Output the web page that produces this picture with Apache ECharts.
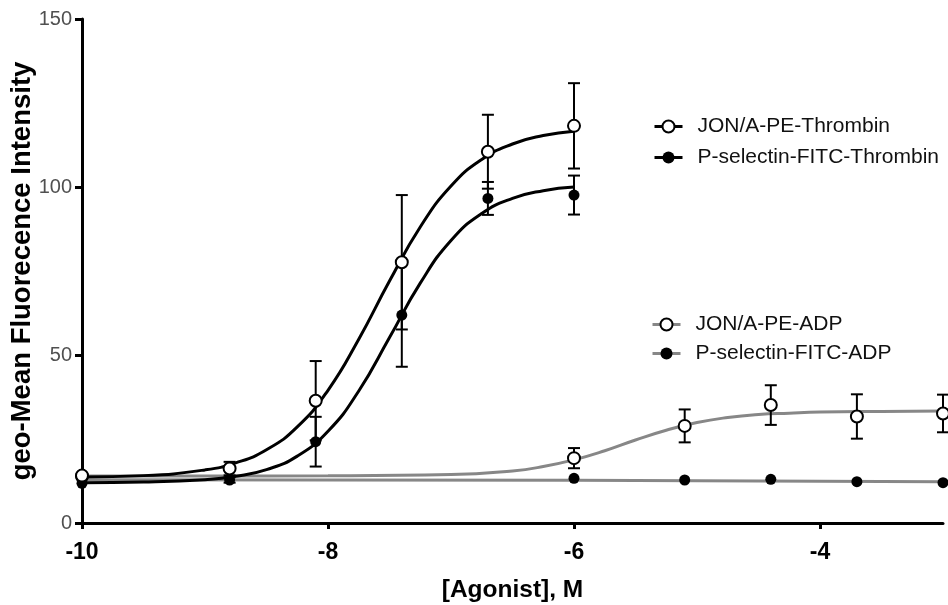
<!DOCTYPE html>
<html>
<head>
<meta charset="utf-8">
<title>Agonist response</title>
<script src="https://cdn.jsdelivr.net/npm/echarts@6/dist/echarts.min.js"></script>
<style>
  html, body { margin: 0; padding: 0; background: #fff; }
  #chart { width: 948px; height: 605px; }
</style>
</head>
<body>
<div id="chart"></div>
<script>
// measured points (log M) and their SE bars
var thrX = [-10, -8.8, -8.1, -7.4, -6.7, -6];
var jonThr = [14.1, 16.2, 36.4, 77.6, 110.5, 118.2];
var jonThrErr = [0, 2, 11.8, 20, 11, 12.7];
var pselThr = [11.8, 12.8, 24.2, 61.9, 96.6, 97.6];
var pselThrErr = [0, 0.8, 7.4, 15.4, 4.9, 5.8];

var adpX = [-10, -6, -5.1, -4.4, -3.7, -3];
var jonAdp = [14, 19.3, 28.9, 35.1, 31.7, 32.6];
var jonAdpErr = [0, 3, 4.9, 5.9, 6.6, 5.6];
var pselAdp = [13, 13.3, 12.8, 13, 12.3, 12];

// fitted curves
var thrFitX = [-10, -9.5, -9, -8.75, -8.5, -8.25, -8, -7.75, -7.5, -7.25, -7, -6.75, -6.5, -6.25, -6];
var jonThrFit = [13.7, 14.1, 15.8, 17.9, 21.8, 28.6, 39.5, 54.7, 72.0, 88.1, 100.3, 108.2, 112.8, 115.3, 116.6];
var pselThrFit = [12, 12.2, 12.9, 13.9, 15.9, 19.9, 27.3, 39.3, 55.2, 71.4, 84.1, 92.1, 96.6, 98.9, 100];
var adpFitX = [-10, -9, -8, -7, -6.5, -6.25, -6, -5.75, -5.5, -5.25, -5, -4.75, -4.5, -4.25, -4, -3.5, -3];
var jonAdpFit = [14, 14, 14.05, 14.4, 15.5, 16.8, 18.8, 21.5, 24.7, 27.6, 29.9, 31.4, 32.3, 32.7, 33.0, 33.2, 33.3];
var pselAdpFitX = [-10, -6, -3];
var pselAdpFit = [12.9, 12.7, 12.3];

var xTicks = [-10, -8, -6, -4];
var names = ['JON/A-PE-Thrombin', 'P-selectin-FITC-Thrombin', 'JON/A-PE-ADP', 'P-selectin-FITC-ADP'];

var FONT = '"Liberation Sans", Arial, sans-serif';
var GRAY = '#878787';

function pairs(xs, ys) {
    var out = [];
    for (var i = 0; i < xs.length; i++) out.push([xs[i], ys[i]]);
    return out;
}

function bars(xs, ys, es) {
    var out = [];
    for (var i = 0; i < xs.length; i++) {
        if (es[i] > 0) out.push([xs[i], ys[i] - es[i], ys[i] + es[i]]);
    }
    return out;
}

function errorBar(params, api) {
    var x = api.value(0);
    var lo = api.coord([x, api.value(1)]);
    var hi = api.coord([x, api.value(2)]);
    var w = 6;
    var style = { stroke: '#000', lineWidth: 2 };
    return {
        type: 'group',
        children: [
            { type: 'line', shape: { x1: lo[0], y1: lo[1], x2: hi[0], y2: hi[1] }, style: style },
            { type: 'line', shape: { x1: lo[0] - w, y1: lo[1], x2: lo[0] + w, y2: lo[1] }, style: style },
            { type: 'line', shape: { x1: hi[0] - w, y1: hi[1], x2: hi[0] + w, y2: hi[1] }, style: style }
        ]
    };
}

function curve(name, data, color, open) {
    return {
        name: name,
        type: 'line',
        data: data,
        smooth: true,
        showSymbol: false,
        symbol: 'circle',
        symbolSize: 10,
        itemStyle: open ? { color: '#fff', borderColor: '#000', borderWidth: 2 } : { color: '#000' },
        lineStyle: { color: color, width: 3 },
        silent: true,
        z: 2
    };
}

function points(data, open) {
    return {
        type: 'scatter',
        data: data,
        symbol: 'circle',
        symbolSize: open ? 12 : 11,
        itemStyle: open ? { color: '#fff', borderColor: '#000', borderWidth: 2, opacity: 1 } : { color: '#000', opacity: 1 },
        z: 4
    };
}

var chart = echarts.init(document.getElementById('chart'));

var legendBase = {
    orient: 'vertical',
    itemWidth: 28,
    itemHeight: 15,
    lineStyle: { width: 3 },
    textStyle: { fontFamily: FONT, fontSize: 21, color: '#111', lineHeight: 20, padding: [0, 0, 0, 10] },
    selectedMode: false
};

chart.setOption({
    animation: false,
    backgroundColor: '#fff',
    grid: { left: 82, right: 5, top: 19, bottom: 82, containLabel: false, outerBoundsMode: 'none' },
    legend: [
        Object.assign({ left: 648, top: 111, itemGap: 10, data: [names[0], names[1]] }, legendBase),
        Object.assign({ left: 646, top: 309, itemGap: 8, data: [names[2], names[3]] }, legendBase)
    ],
    xAxis: {
        type: 'value',
        min: -10,
        max: -3,
        interval: 2,
        name: '[Agonist], M',
        nameLocation: 'middle',
        nameGap: 55,
        nameMoveOverlap: false,
        nameTextStyle: { fontFamily: FONT, fontSize: 24.5, fontWeight: 'bold', color: '#000' },
        axisLine: { lineStyle: { color: '#000', width: 3 } },
        axisTick: { length: 6, lineStyle: { width: 3, color: '#000' }, customValues: xTicks },
        axisLabel: { customValues: xTicks, margin: 18, fontFamily: FONT, fontSize: 23, fontWeight: 'bold', color: '#000' },
        splitLine: { show: false }
    },
    yAxis: {
        type: 'value',
        min: 0,
        max: 150,
        interval: 50,
        name: 'geo-Mean Fluorecence Intensity',
        nameLocation: 'middle',
        nameGap: 46,
        nameMoveOverlap: false,
        nameTextStyle: { fontFamily: FONT, fontSize: 27.5, fontWeight: 'bold', color: '#000' },
        axisLine: { lineStyle: { color: '#000', width: 3 } },
        axisTick: { length: 7, lineStyle: { width: 3, color: '#000' } },
        axisLabel: { margin: 10, fontFamily: FONT, fontSize: 20, color: '#505050' },
        splitLine: { show: false }
    },
    series: [
        curve(names[2], pairs(adpFitX, jonAdpFit), GRAY, true),
        curve(names[3], pairs(pselAdpFitX, pselAdpFit), GRAY, false),
        { type: 'custom', renderItem: errorBar, data: bars(adpX, jonAdp, jonAdpErr), encode: { x: 0, y: [1, 2] }, z: 3, silent: true },
        points(pairs(adpX, pselAdp), false),
        points(pairs(adpX, jonAdp), true),
        curve(names[0], pairs(thrFitX, jonThrFit), '#000', true),
        curve(names[1], pairs(thrFitX, pselThrFit), '#000', false),
        { type: 'custom', renderItem: errorBar, data: bars(thrX, pselThr, pselThrErr), encode: { x: 0, y: [1, 2] }, z: 5, silent: true },
        { type: 'custom', renderItem: errorBar, data: bars(thrX, jonThr, jonThrErr), encode: { x: 0, y: [1, 2] }, z: 5, silent: true },
        Object.assign(points(pairs(thrX, pselThr), false), { z: 6 }),
        Object.assign(points(pairs(thrX, jonThr), true), { z: 6 })
    ]
});
</script>
</body>
</html>
